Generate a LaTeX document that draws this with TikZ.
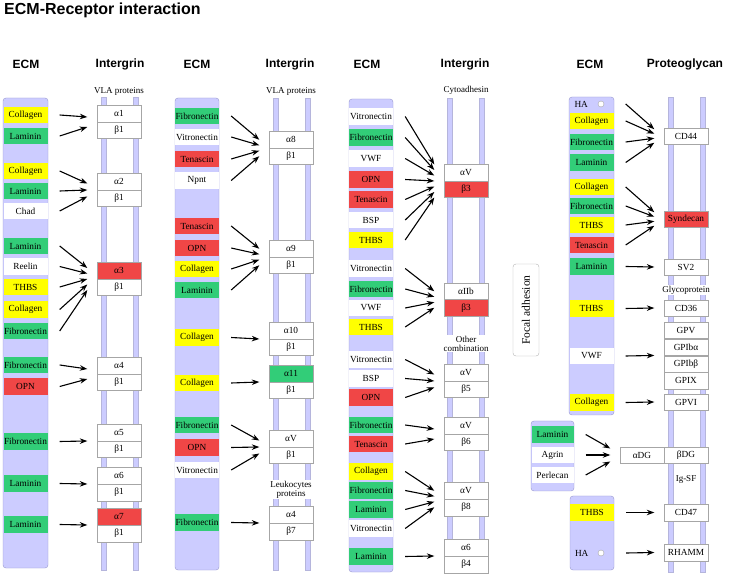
\documentclass[tikz,border=0pt]{standalone}
\usepackage{fontspec}
\setmainfont{Liberation Serif}
\newfontfamily\headfont{Liberation Sans}
\usetikzlibrary{arrows.meta}

\definecolor{lav}{RGB}{204,204,255}
\definecolor{lavedge}{RGB}{150,150,205}
\definecolor{grn}{RGB}{50,205,120}
\definecolor{rd}{RGB}{240,70,70}
\definecolor{yel}{RGB}{255,255,0}

\tikzset{
  ecmbar/.style={fill=lav, draw=lavedge, rounded corners=3pt},
  rail/.style={fill=lav, draw=lavedge!70, line width=0.4pt},
  item/.style={minimum width=44pt, minimum height=16.5pt, inner sep=0pt, font=\fontsize{9.3}{10}\selectfont},
  rec/.style={item, draw=gray!70, fill=white},
  tag/.style={font=\fontsize{9}{9}\selectfont, align=center, fill=white, inner sep=1pt},
  head/.style={font=\headfont\bfseries\fontsize{12}{12}\selectfont},
  arr/.style={-{Stealth[length=7.5pt,width=5.5pt]}, line width=1.1pt},
}

% fan of arrows: #1 target, #2 count, #3 spread, #4 sources
\newcommand\fan[4]{%
  \foreach \s [count=\i] in {#4}
    \draw[arr] ([xshift=12pt]\s.east) -- ([xshift=-9.5pt, yshift={((#2+1)/2-\i)*#3}]#1);
}
% HA row text, shifted left
\newcommand\hatext{\makebox[40pt][l]{\hspace{3pt}HA}}

\begin{document}
\begin{tikzpicture}[x=1pt, y=-1pt]
  \useasboundingbox (0,0) rectangle (729,577);

  % Title and column heads
  \node[anchor=west, inner sep=0pt, font=\headfont\bfseries\fontsize{16}{16}\selectfont] (title) at (4,10.5) {ECM-Receptor interaction};
  \node[head] (h1) at (26,64.5) {ECM};
  \node[head] (h2) at (120,64.5) {Intergrin};
  \node[head] (h3) at (197,64.5) {ECM};
  \node[head] (h4) at (290,64.5) {Intergrin};
  \node[head] (h5) at (367,64.5) {ECM};
  \node[head] (h6) at (465,64.5) {Intergrin};
  \node[head] (h7) at (590,64.5) {ECM};
  \node[head] (h8) at (685,64.5) {Proteoglycan};

  % ECM bars
  \draw[ecmbar] (3,98) rectangle (48,568);
  \draw[ecmbar] (175,98) rectangle (219,570);
  \draw[ecmbar] (349,99) rectangle (393,572);
  \draw[ecmbar] (569,97) rectangle (614,415);
  \draw[ecmbar] (531,421) rectangle (574,491);
  \draw[ecmbar] (570,496) rectangle (614,570);

  % Receptor rails
  \foreach \x/\a/\b in {103.5/97/570, 135.5/97/570, 275.5/98/570, 307.5/98/570,
                        449.5/98/573, 481.5/98/573, 670.5/97/572, 702.5/97/572}
    \draw[rail] (\x-2.5,\a) rectangle (\x+2.5,\b);

  % Column 1 ECM
  \foreach \y/\c/\t [count=\i] in {115/yel/Collagen, 136/grn/Laminin, 171/yel/Collagen,
      191/grn/Laminin, 211/white/Chad, 246/grn/Laminin, 266.5/white/Reelin, 287/yel/THBS,
      309.5/yel/Collagen, 331/grn/Fibronectin, 365/grn/Fibronectin, 386.5/rd/OPN,
      441.5/grn/Fibronectin, 483.5/grn/Laminin, 524.5/grn/Laminin}
    \node[item, fill=\c] (A\i) at (25.5,\y) {\t};

  % Column 2 ECM
  \foreach \y/\c/\t [count=\i] in {116/grn/Fibronectin, 137/white/Vitronectin, 159/rd/Tenascin,
      180.5/white/Npnt, 226/rd/Tenascin, 248/rd/OPN, 269/yel/Collagen, 290/grn/Laminin,
      337.5/yel/Collagen, 383/yel/Collagen, 425/grn/Fibronectin, 447.5/rd/OPN,
      470/white/Vitronectin, 522.5/grn/Fibronectin}
    \node[item, fill=\c] (B\i) at (197,\y) {\t};

  % Column 3 ECM
  \foreach \y/\c/\t [count=\i] in {116.5/white/Vitronectin, 137.5/grn/Fibronectin, 158.5/white/VWF,
      179.5/rd/OPN, 199.5/rd/Tenascin, 220/white/BSP, 240/yel/THBS, 268.5/white/Vitronectin,
      289/grn/Fibronectin, 308/white/VWF, 327/yel/THBS, 359.5/white/Vitronectin,
      378.5/white/BSP, 397.5/rd/OPN, 425/grn/Fibronectin, 444/rd/Tenascin,
      471.5/yel/Collagen, 490.5/grn/Fibronectin, 509.5/grn/Laminin, 528.5/white/Vitronectin,
      556.5/grn/Laminin}
    \node[item, fill=\c] (C\i) at (371,\y) {\t};

  % Column 4 ECM
  \node[item] (D0) at (591.5,104) {\hatext};
  \draw[fill=white, draw=gray!70] (601,104) circle (3pt);
  \foreach \y/\c/\t [count=\i] in {121/yel/Collagen, 142/grn/Fibronectin, 162.5/grn/Laminin,
      187/yel/Collagen, 206/grn/Fibronectin, 225/yel/THBS, 245/rd/Tenascin,
      266.5/grn/Laminin, 308.5/yel/THBS, 356/white/VWF, 402.5/yel/Collagen}
    \node[item, fill=\c] (D\i) at (591.5,\y) {\t};
  \foreach \y/\c/\t [count=\i] in {434.5/grn/Laminin, 455/white/Agrin, 475/white/Perlecan}
    \node[item, minimum width=42pt, fill=\c] (E\i) at (552.5,\y) {\t};
  \node[item, fill=yel] (F1) at (592,512.5) {THBS};
  \node[item] (F2) at (592,553) {\hatext};
  \draw[fill=white, draw=gray!70] (601,553) circle (3pt);

  % Integrin pairs
  \foreach \n/\x/\y/\ca/\ta/\cb/\tb in {1/119/122/white/α1/white/β1, 2/119/190/white/α2/white/β1,
      3/119/279/rd/α3/white/β1, 4/119/374/white/α4/white/β1, 5/119/441/white/α5/white/β1,
      6/119/484/white/α6/white/β1, 7/119/525/rd/α7/white/β1,
      8/291/148/white/α8/white/β1, 9/291/257/white/α9/white/β1, 10/291/339/white/α10/white/β1,
      11/291/382/grn/α11/white/β1, 12/291/447/white/αV/white/β1, 13/291/523/white/α4/white/β7,
      14/466/181/white/αV/rd/β3, 15/466/299.5/white/αIIb/rd/β3, 16/466/381/white/αV/white/β5,
      17/466/434/white/αV/white/β6, 18/466/499/white/αV/white/β8, 19/466/556/white/α6/white/β4}
  {
    \node[rec, fill=\ca, anchor=south] (pa\n) at (\x,\y) {\ta};
    \node[rec, fill=\cb, anchor=north] (pb\n) at (\x,\y) {\tb};
  }

  % Proteoglycans and others
  \node[rec] (cd44) at (686,136) {CD44};
  \node[rec, fill=rd] (synd) at (686,219) {Syndecan};
  \node[rec] (sv2) at (686,267) {SV2};
  \node[rec] (cd36) at (686,308) {CD36};
  \node[rec] (gpv) at (686,330) {GPV};
  \node[rec] (gpiba) at (686,347) {GPIbα};
  \node[rec] (gpibb) at (686,364) {GPIbβ};
  \node[rec] (gpix) at (686,380.5) {GPIX};
  \node[rec] (gpvi) at (686,402) {GPVI};
  \node[rec] (adg) at (642,455) {αDG};
  \node[rec] (bdg) at (686,455) {βDG};
  \node[rec] (cd47) at (686,512.5) {CD47};
  \node[rec] (rhamm) at (686,552.5) {RHAMM};

  % Group labels
  \node[tag] (vla1) at (119,91.5) {VLA proteins};
  \node[tag] (vla2) at (291,91.5) {VLA proteins};
  \node[tag] (cyto) at (466,90) {Cytoadhesin};
  \node[tag] (leuko) at (291,489.5) {Leukocytes\\proteins};
  \node[tag] (other) at (466,343.5) {Other\\combination};
  \node[tag] (glyco) at (686,290) {Glycoprotein};
  \node[tag] (igsf) at (686,479) {Ig-SF};
  \node[draw=gray!60, rounded corners=3pt, rotate=90, minimum width=92pt, minimum height=26pt,
        font=\fontsize{11.5}{12}\selectfont] (focal) at (526,310) {Focal adhesion};

  % Arrows, column 1
  \fan{pa1.south west}{2}{10}{A1,A2}
  \fan{pa2.south west}{3}{6.5}{A3,A4,A5}
  \fan{pa3.south west}{5}{5.5}{A6,A7,A8,A9,A10}
  \fan{pa4.south west}{2}{10}{A11,A12}
  \fan{pa5.south west}{1}{0}{A13}
  \fan{pa6.south west}{1}{0}{A14}
  \fan{pa7.south west}{1}{0}{A15}

  % Arrows, column 2
  \fan{pa8.south west}{4}{5.5}{B1,B2,B3,B4}
  \fan{pa9.south west}{4}{5.5}{B5,B6,B7,B8}
  \fan{pa10.south west}{1}{0}{B9}
  \fan{pa11.south west}{1}{0}{B10}
  \fan{pa12.south west}{3}{6.5}{B11,B12,B13}
  \fan{pa13.south west}{1}{0}{B14}

  % Arrows, column 3
  \fan{pa14.south west}{7}{5.5}{C1,C2,C3,C4,C5,C6,C7}
  \fan{pa15.south west}{4}{5.5}{C8,C9,C10,C11}
  \fan{pa16.south west}{3}{6.5}{C12,C13,C14}
  \fan{pa17.south west}{2}{10}{C15,C16}
  \fan{pa18.south west}{4}{5.5}{C17,C18,C19,C20}
  \fan{pa19.south west}{1}{0}{C21}

  % Arrows, column 4
  \fan{cd44.west}{4}{4.5}{D0,D1,D2,D3}
  \fan{synd.west}{4}{4.5}{D4,D5,D6,D7}
  \fan{sv2.west}{1}{0}{D8}
  \fan{cd36.west}{1}{0}{D9}
  \fan{gpiba.south west}{1}{0}{D10}
  \fan{gpvi.west}{1}{0}{D11}
  \fan{adg.west}{3}{6.5}{E1,E2,E3}
  \fan{cd47.west}{1}{0}{F1}
  \fan{rhamm.west}{1}{0}{F2}
\end{tikzpicture}
\end{document}
